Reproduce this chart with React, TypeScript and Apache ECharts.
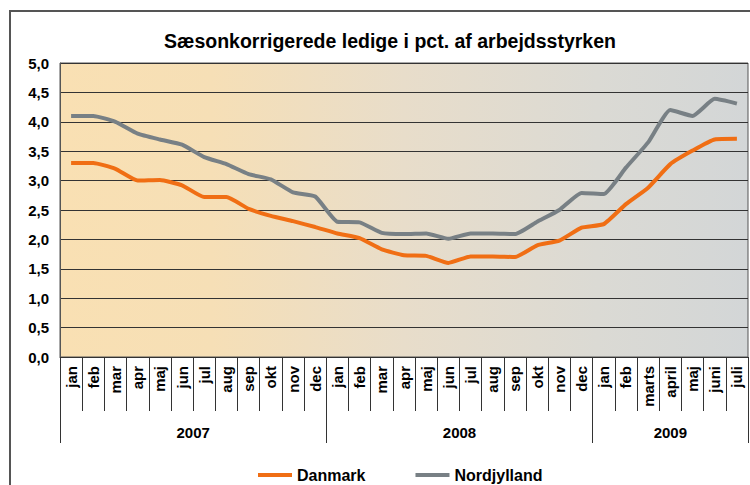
import React, { useEffect, useRef } from "react";
import * as echarts from "echarts";

const titleText = "Sæsonkorrigerede ledige i pct. af arbejdsstyrken";

const months = [
  "jan", "feb", "mar", "apr", "maj", "jun", "jul", "aug", "sep", "okt", "nov", "dec",
  "jan", "feb", "mar", "apr", "maj", "jun", "jul", "aug", "sep", "okt", "nov", "dec",
  "jan", "feb", "marts", "april", "maj", "juni", "juli",
];

const years = ["2007", "2008", "2009"];
const yearMonthCounts = [12, 12, 7];

const danmark = [
  3.3, 3.3, 3.2, 3.0, 3.01, 2.92, 2.72, 2.72, 2.52, 2.4, 2.31, 2.21,
  2.1, 2.02, 1.83, 1.73, 1.72, 1.6, 1.71, 1.71, 1.7, 1.9, 1.98, 2.2,
  2.26, 2.6, 2.88, 3.28, 3.51, 3.7, 3.71,
];

const nordjylland = [
  4.1, 4.1, 4.0, 3.8, 3.7, 3.61, 3.4, 3.28, 3.11, 3.02, 2.8, 2.73,
  2.3, 2.29, 2.11, 2.09, 2.1, 2.01, 2.1, 2.1, 2.09, 2.3, 2.5, 2.79,
  2.77, 3.22, 3.65, 4.2, 4.1, 4.39, 4.31,
];

const seriesNames = ["Danmark", "Nordjylland"];

export default function App() {
  const ref = useRef<HTMLDivElement>(null);

  useEffect(() => {
    if (!ref.current) return;
    const chart = echarts.init(ref.current, undefined, { renderer: "svg" });

    const yearBounds: number[] = [0];
    const yearMids: number[] = [];
    let acc = 0;
    yearMonthCounts.forEach((c) => {
      yearMids.push(acc + c / 2);
      acc += c;
      yearBounds.push(acc);
    });

    const font = "'Liberation Sans', Arial, sans-serif";

    chart.setOption({
      animation: false,
      backgroundColor: "#ffffff",
      title: {
        text: titleText,
        left: 385,
        textAlign: "center",
        top: 26,
        textStyle: { fontFamily: font, fontWeight: "bold", fontSize: 19.5, color: "#000" },
      },
      graphic: [
        {
          type: "rect",
          shape: { x: 10, y: 11, width: 770, height: 520 },
          style: { fill: "none", stroke: "#555", lineWidth: 2 },
          silent: true,
        },
      ],
      legend: {
        data: seriesNames,
        left: 253,
        top: 462,
        icon: "rect",
        itemWidth: 34,
        itemHeight: 4,
        itemGap: 50,
        textStyle: { fontFamily: font, fontWeight: "bold", fontSize: 16, color: "#000" },
      },
      grid: {
        left: 60,
        top: 63,
        right: 2,
        bottom: 128,
        show: true,
        borderColor: "#555",
        borderWidth: 1,
        backgroundColor: {
          type: "linear",
          x: 0,
          y: 0,
          x2: 1,
          y2: 0,
          colorStops: [
            { offset: 0, color: "#F9E0B3" },
            { offset: 0.22, color: "#F6DFB6" },
            { offset: 0.5, color: "#E8DDCA" },
            { offset: 0.78, color: "#DBDAD4" },
            { offset: 1, color: "#D3D6D7" },
          ],
        },
      },
      xAxis: [
        {
          type: "category",
          data: months,
          boundaryGap: true,
          axisLine: { show: true, lineStyle: { color: "#333", width: 1 } },
          axisTick: { show: true, length: 54, lineStyle: { color: "#333" } },
          axisLabel: {
            rotate: 90,
            interval: 0,
            margin: 9,
            fontFamily: font,
            fontWeight: "bold",
            fontSize: 15,
            color: "#000",
          },
          splitLine: { show: false },
        },
        {
          type: "value",
          min: 0,
          max: months.length,
          position: "bottom",
          axisLine: { show: false },
          splitLine: { show: false },
          axisTick: {
            show: true,
            length: 86,
            customValues: yearBounds,
            lineStyle: { color: "#333" },
          },
          axisLabel: {
            show: true,
            customValues: yearMids,
            margin: 68,
            fontFamily: font,
            fontWeight: "bold",
            fontSize: 15,
            color: "#000",
            formatter: (v: number) => {
              const i = yearMids.findIndex((m) => Math.abs(m - v) < 1e-6);
              return i >= 0 ? years[i] : "";
            },
          },
        },
      ],
      yAxis: {
        type: "value",
        min: 0,
        max: 5,
        interval: 0.5,
        axisLine: { show: true, lineStyle: { color: "#555" } },
        axisTick: { show: false },
        axisLabel: {
          margin: 11,
          fontFamily: font,
          fontWeight: "bold",
          fontSize: 15,
          color: "#000",
          formatter: (v: number) => v.toFixed(1).replace(".", ","),
        },
        splitLine: { show: true, lineStyle: { color: "#333", width: 1 } },
      },
      series: [
        {
          name: seriesNames[0],
          type: "line",
          data: danmark,
          xAxisIndex: 0,
          symbol: "none",
          smooth: 0.15,
          lineStyle: { color: "#F06E14", width: 4 },
          itemStyle: { color: "#F06E14" },
        },
        {
          name: seriesNames[1],
          type: "line",
          data: nordjylland,
          xAxisIndex: 0,
          symbol: "none",
          smooth: 0.15,
          lineStyle: { color: "#788085", width: 4 },
          itemStyle: { color: "#788085" },
        },
      ],
    });

    return () => chart.dispose();
  }, []);

  return (
    <div
      ref={ref}
      style={{ position: "absolute", left: 0, top: 0, width: 750, height: 485 }}
    />
  );
}
